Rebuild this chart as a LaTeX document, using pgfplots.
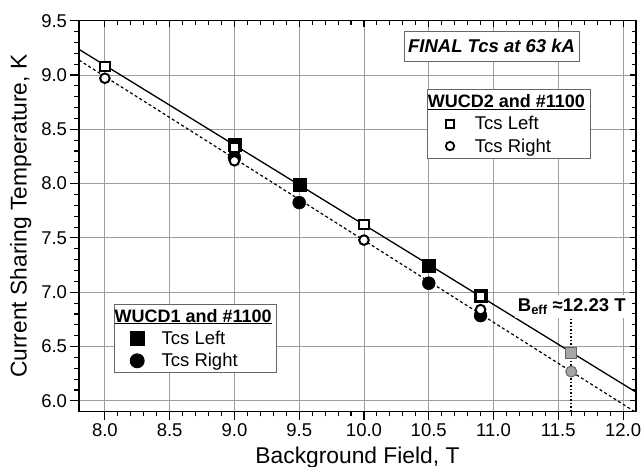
\documentclass[border=0pt]{standalone}
\usepackage{fontspec}
\setmainfont{Liberation Sans}
\usepackage{pgfplots}
\pgfplotsset{compat=1.18}
\begin{document}
\begin{tikzpicture}
\pgfplotsset{
  common/.style={
    scale only axis, width=557bp, height=391bp,
    xmin=7.8, xmax=12.1, ymin=5.9, ymax=9.5,
    xtick={8,8.5,...,12}, ytick={6,6.5,...,9.5},
    minor x tick num=4, minor y tick num=4,
    axis line style={line width=1.3bp},
    every tick/.style={black, line width=1.1bp},
    legend cell align=left,
  },
  mylegmark/.style={legend image code/.code={\path (0bp,0bp) (41bp,0bp); \draw[##1] plot coordinates {(19bp,0bp)};}},
  mylegend/.style={anchor=north west, draw=black!60, line width=0.9bp,
    fill=white, font=\fontsize{18.5bp}{20bp}\selectfont, row sep=3.5bp, inner ysep=2.5bp},
}
\begin{axis}[common,
  tick align=outside, xtick pos=left, ytick pos=left,
  major tick length=8.5bp, minor tick length=4.5bp,
  grid=major, grid style={black!38, line width=0.9bp},
  ticklabel style={font=\fontsize{18.5bp}{20bp}\selectfont,
    /pgf/number format/fixed, /pgf/number format/fixed zerofill, /pgf/number format/precision=1},
  /pgf/number format/assume math mode=true,
  xlabel={Background Field, T}, ylabel={Current Sharing Temperature, K},
  label style={font=\fontsize{22.8bp}{24bp}\selectfont},
  xlabel style={at={(axis description cs:0.5,0)}, anchor=base, yshift=-51.8bp},
  ylabel style={at={(axis description cs:-0.1047,0.5)}, anchor=center},
  legend style={mylegend, at={(0.0634,0.2754)}},
]
% fit lines
\addplot[black, line width=1.3bp, forget plot] coordinates {(7.8,9.236) (12.1,6.080)};
\addplot[black, line width=1.2bp, dash pattern=on 3bp off 2.5bp, forget plot] coordinates {(7.8,9.137) (12.1,5.893)};
% dotted marker at B_eff
\addplot[black, line width=2.2bp, dash pattern=on 1.5bp off 2bp, forget plot] coordinates {(11.6,6.757) (11.6,5.9)};
% WUCD1 (filled)
\addplot[only marks, mark=square*, mark size=6.5bp, black, forget plot] coordinates {(9.0,8.36) (9.5,7.99) (10.5,7.245) (10.9,6.97)};
\addplot[only marks, mark=*, mark size=6.5bp, black, forget plot] coordinates {(9.0,8.24) (9.5,7.825) (10.5,7.083) (10.9,6.785)};
% WUCD2 (open)
\addplot[only marks, mark=square*, mark size=4.6bp, draw=black, fill=white, line width=2bp, forget plot] coordinates {(8.0,9.08) (9.0,8.33) (10.0,7.62) (10.9,6.96)};
\addplot[only marks, mark=*, mark size=4.8bp, draw=black, fill=white, line width=2bp, forget plot] coordinates {(8.0,8.97) (9.0,8.21) (10.0,7.48) (10.9,6.84)};
% extrapolated (gray)
\addplot[only marks, mark=square*, mark size=5.5bp, draw=black!60, fill=black!35, line width=1bp, forget plot] coordinates {(11.6,6.44)};
\addplot[only marks, mark=*, mark size=5.5bp, draw=black!60, fill=black!35, line width=1bp, forget plot] coordinates {(11.6,6.27)};
% annotations
\node[fill=white, inner sep=3bp, font=\fontsize{18.5bp}{20bp}\selectfont\bfseries] at (axis cs:11.604,6.868) {B\textsubscript{eff} ≈12.23 T};
\node[draw=black!60, line width=0.9bp, fill=white, inner xsep=4bp, minimum height=30.7bp, font=\fontsize{18.5bp}{20bp}\selectfont\bfseries\itshape] at (axis cs:10.985,9.264) {FINAL Tcs at 63 kA};
% legend WUCD1
\addlegendimage{empty legend}
\addlegendentry{\hspace{-47bp}\fontsize{18bp}{20bp}\selectfont\textbf{\underline{WUCD1 and \#1100}}}
\addlegendimage{only marks, mark=square*, mark size=7bp, black, mylegmark}
\addlegendentry{Tcs Left}
\addlegendimage{only marks, mark=*, mark size=7bp, black, mylegmark}
\addlegendentry{Tcs Right}
\end{axis}
\begin{axis}[common,
  tick align=inside, xtick pos=right, ytick pos=right,
  xticklabels={}, yticklabels={},
  major tick length=6bp, minor tick length=4bp,
  legend style={mylegend, at={(0.6242,0.8246)}},
]
\addlegendimage{empty legend}
\addlegendentry{\hspace{-47bp}\fontsize{18bp}{20bp}\selectfont\textbf{\underline{WUCD2 and \#1100}}}
\addlegendimage{only marks, mark=square*, mark size=4bp, draw=black, fill=white, line width=1.8bp, mylegmark}
\addlegendentry{Tcs Left}
\addlegendimage{only marks, mark=*, mark size=4.2bp, draw=black, fill=white, line width=1.8bp, mylegmark}
\addlegendentry{Tcs Right}
\end{axis}
\pgfresetboundingbox
\path[use as bounding box] ([shift={(-79bp,-55.3bp)}]current axis.south west) rectangle ([shift={(6bp,20.7bp)}]current axis.north east);
\end{tikzpicture}
\end{document}
